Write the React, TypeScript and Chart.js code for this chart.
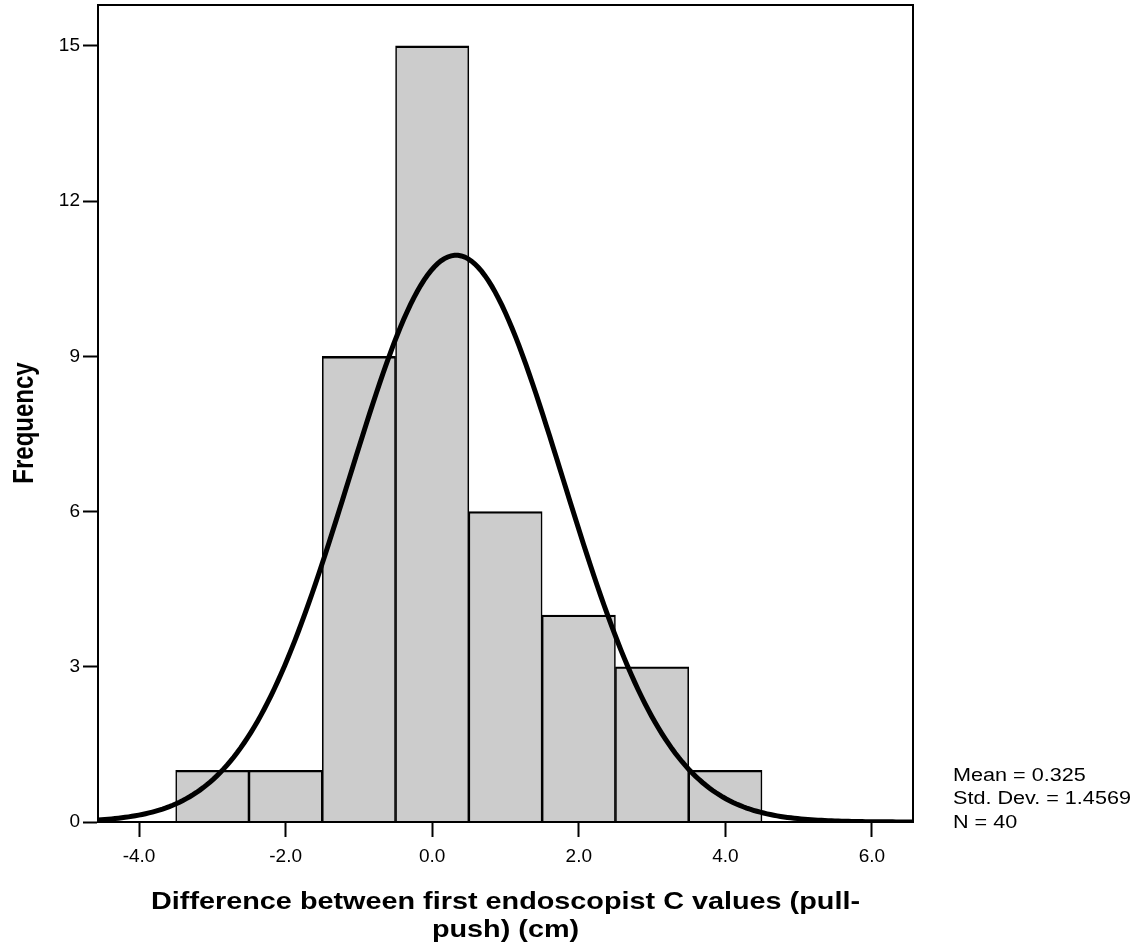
import React, { useEffect, useRef } from "react";
import { Chart, registerables } from "chart.js";

Chart.register(...registerables);

// Histogram bins (centre of each 1.0 cm bin) and their counts
const BIN_CENTERS = [-3, -2, -1, 0, 1, 2, 3, 4];
const FREQUENCIES = [1, 1, 9, 15, 6, 4, 3, 1];
const BIN_WIDTH = 1;

// Summary statistics shown beside the plot; the fitted normal curve uses them
const MEAN = 0.325;
const STD_DEV = 1.4569;
const N = 40;

// Axis ranges and tick values
const X_MIN = -4.56;
const X_MAX = 6.56;
const X_TICKS = [-4, -2, 0, 2, 4, 6];
const Y_MIN = 0;
const Y_MAX = 15.79;
const Y_TICKS = [0, 3, 6, 9, 12, 15];
const CURVE_STEPS = 240;

const X_TITLE_LINES = ["Difference between first endoscopist C values (pull-", "push) (cm)"];
const Y_TITLE = "Frequency";
const STATS_LINES = [`Mean = ${MEAN}`, `Std. Dev. = ${STD_DEV}`, `N = ${N}`];

const FONT = '"Liberation Sans", Arial, sans-serif';
const TEXT_STRETCH = 1.2; // wide, horizontally stretched lettering

// Expected count per bin under a normal distribution with the stated mean/SD
function normalCurve() {
  const pts: { x: number; y: number }[] = [];
  const k = (N * BIN_WIDTH) / (STD_DEV * Math.sqrt(2 * Math.PI));
  for (let i = 0; i <= CURVE_STEPS; i++) {
    const x = X_MIN + ((X_MAX - X_MIN) * i) / CURVE_STEPS;
    const z = (x - MEAN) / STD_DEV;
    pts.push({ x, y: k * Math.exp(-0.5 * z * z) });
  }
  return pts;
}

function wideText(ctx: CanvasRenderingContext2D, text: string, x: number, y: number, align: "left" | "center") {
  ctx.save();
  ctx.translate(x, y);
  ctx.scale(TEXT_STRETCH, 1);
  ctx.textAlign = align;
  ctx.fillText(text, 0, 0);
  ctx.restore();
}

const annotations = {
  id: "annotations",
  afterDraw(chart: any) {
    const { ctx, chartArea } = chart;
    ctx.save();
    // frame around the plot area
    ctx.strokeStyle = "#000";
    ctx.lineWidth = 2;
    ctx.strokeRect(chartArea.left, chartArea.top, chartArea.right - chartArea.left, chartArea.bottom - chartArea.top);

    ctx.fillStyle = "#000";
    ctx.textBaseline = "alphabetic";
    // x axis title
    ctx.font = `bold 24px ${FONT}`;
    const cx = (chartArea.left + chartArea.right) / 2;
    wideText(ctx, X_TITLE_LINES[0], cx, 909, "center");
    wideText(ctx, X_TITLE_LINES[1], cx, 937, "center");

    // y axis title (rotated; stretched across the page's horizontal direction)
    ctx.save();
    ctx.translate(33, 423);
    ctx.scale(TEXT_STRETCH, 1);
    ctx.rotate(-Math.PI / 2);
    ctx.font = `bold 24px ${FONT}`;
    ctx.textAlign = "center";
    ctx.fillText(Y_TITLE, 0, 0);
    ctx.restore();

    // statistics
    ctx.font = `18px ${FONT}`;
    const baselines = [781, 804, 828];
    STATS_LINES.forEach((s, i) => wideText(ctx, s, 953, baselines[i], "left"));
    ctx.restore();
  },
};

export default function App() {
  const ref = useRef<HTMLCanvasElement | null>(null);

  useEffect(() => {
    if (!ref.current) return;
    const axisGrid = {
      display: true,
      drawOnChartArea: false,
      drawTicks: true,
      offset: false,
      tickLength: 15,
      tickColor: "#000",
      tickWidth: 2,
    };
    const chart = new Chart(ref.current, {
      type: "bar",
      data: {
        datasets: [
          {
            type: "line",
            data: normalCurve(),
            borderColor: "#000",
            borderWidth: 5,
            pointRadius: 0,
            tension: 0,
            fill: false,
            order: 0,
          } as any,
          {
            type: "bar",
            data: BIN_CENTERS.map((x, i) => ({ x, y: FREQUENCIES[i] })),
            backgroundColor: "#cccccc",
            borderColor: "#000",
            borderWidth: { top: 2.4, left: 1.6, right: 1.6, bottom: 0 },
            borderSkipped: false,
            barPercentage: 1,
            categoryPercentage: 1,
            order: 1,
          } as any,
        ],
      },
      options: {
        animation: false,
        responsive: false,
        maintainAspectRatio: false,
        layout: { autoPadding: false, padding: { top: 5, right: 222, left: 0, bottom: 0 } },
        plugins: { legend: { display: false }, tooltip: { enabled: false }, title: { display: false } },
        scales: {
          x: {
            type: "linear",
            min: X_MIN,
            max: X_MAX,
            offset: false,
            afterBuildTicks: (s: any) => {
              s.ticks = X_TICKS.map((v) => ({ value: v }));
            },
            afterFit: (s: any) => {
              s.height = 128;
              s.paddingLeft = 0;
              s.paddingRight = 0;
            },
            ticks: {
              color: "#000",
              font: { family: FONT, size: 19 },
              padding: 8,
              maxRotation: 0,
              autoSkip: false,
              callback: (v: any) => Number(v).toFixed(1),
            },
            grid: axisGrid,
            border: { display: true, color: "#000", width: 2 },
          },
          y: {
            type: "linear",
            min: Y_MIN,
            max: Y_MAX,
            afterBuildTicks: (s: any) => {
              s.ticks = Y_TICKS.map((v) => ({ value: v }));
            },
            afterFit: (s: any) => {
              s.width = 98;
              s.paddingTop = 0;
              s.paddingBottom = 0;
            },
            ticks: {
              color: "#000",
              font: { family: FONT, size: 19 },
              padding: 3,
              autoSkip: false,
            },
            grid: axisGrid,
            border: { display: true, color: "#000", width: 2 },
          },
        },
      },
      plugins: [annotations],
    });
    return () => chart.destroy();
  }, []);

  return (
    <div style={{ position: "absolute", left: 0, top: 0, width: 1135, height: 950, background: "#fff" }}>
      <canvas ref={ref} width={1135} height={950} style={{ width: 1135, height: 950, display: "block" }} />
    </div>
  );
}
